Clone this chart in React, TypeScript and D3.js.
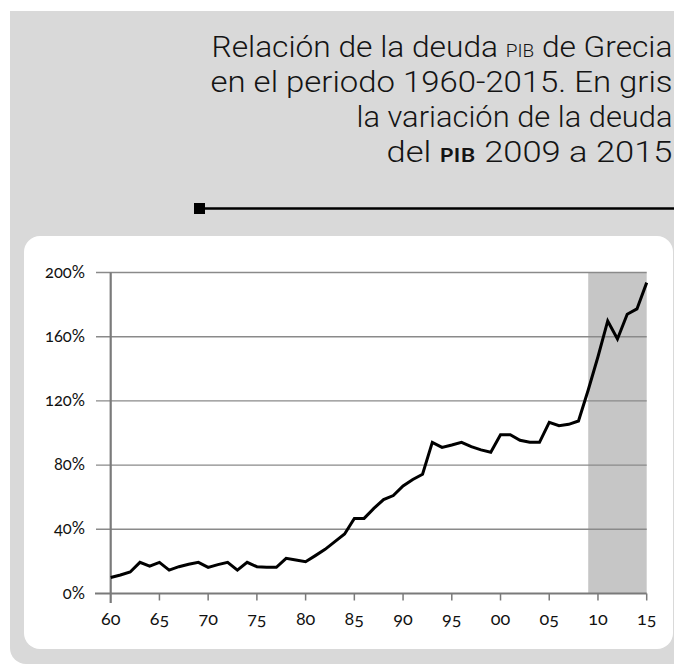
import React from 'react';
import * as d3 from 'd3';

// ---- Data ----
const years = [
  1960, 1961, 1962, 1963, 1964, 1965, 1966, 1967, 1968, 1969,
  1970, 1971, 1972, 1973, 1974, 1975, 1976, 1977, 1978, 1979,
  1980, 1981, 1982, 1983, 1984, 1985, 1986, 1987, 1988, 1989,
  1990, 1991, 1992, 1993, 1994, 1995, 1996, 1997, 1998, 1999,
  2000, 2001, 2002, 2003, 2004, 2005, 2006, 2007, 2008, 2009,
  2010, 2011, 2012, 2013, 2014, 2015,
];
const debtPct = [
  10, 11.5, 13.4, 19.4, 17.1, 19.4, 14.6, 16.7, 18.2, 19.4,
  16.3, 18.0, 19.4, 14.6, 19.4, 16.7, 16.3, 16.3, 21.9, 20.9,
  19.8, 23.6, 27.5, 32.3, 37.1, 46.8, 46.8, 53, 58.5, 61,
  67, 71, 74.3, 94.2, 91, 92.5, 94.2, 91.5, 89.5, 88,
  98.9, 98.9, 95.5, 94.2, 94.2, 106.7, 104.5, 105.4, 107.5, 126.8,
  147.5, 169.8, 158.6, 174, 177.3, 193.7,
];
const yTicks = [0, 40, 80, 120, 160, 200];
const xTickYears = [1960, 1965, 1970, 1975, 1980, 1985, 1990, 1995, 2000, 2005, 2010, 2015];
const xTickLabels = ['60', '65', '70', '75', '80', '85', '90', '95', '00', '05', '10', '15'];
const shadeRange = [2009, 2015];

type Seg = { t: string; kind?: 'sc1' | 'sc2' };
const titleLines: Seg[][] = [
  [{ t: 'Relación de la deuda ' }, { t: 'PIB', kind: 'sc1' }, { t: ' de Grecia' }],
  [{ t: 'en el periodo 1960-2015. En gris' }],
  [{ t: 'la variación de la deuda' }],
  [{ t: 'del ' }, { t: 'PIB', kind: 'sc2' }, { t: ' 2009 a 2015' }],
];
const titleWidths = [461, 462, 316, 286];

export default function App() {
  const W = 674;
  const H = 664;
  const x = d3.scaleLinear().domain([1960, 2015]).range([110.7, 646.7]);
  const y = d3.scaleLinear().domain([0, 200]).range([593.5, 272.5]);
  const line = d3
    .line<number>()
    .x((_, i) => x(years[i]))
    .y((d) => y(d));

  const axisFont = "'Lato', 'Noto Sans', sans-serif";
  const titleFont = "'Roboto', 'DejaVu Sans', sans-serif";
  const gridColor = '#8a8a8a';
  const axisColor = '#7a7a7a';
  const onum: React.CSSProperties = {
    fontVariantNumeric: 'oldstyle-nums',
    fontFeatureSettings: '"onum" 1',
  };

  return (
    <svg
      width={W}
      height={H}
      viewBox={`0 0 ${W} ${H}`}
      style={{ position: 'absolute', left: 0, top: 0, background: '#ffffff' }}
    >
      {/* gray panel */}
      <path d={`M10,11 H${W + 20} V${H} H26 A16,16 0 0 1 10,${H - 16} Z`} fill="#d9d9d9" />

      {/* title */}
      {titleLines.map((segs, li) => (
        <text
          key={li}
          x={672.5}
          y={57 + li * 35}
          textAnchor="end"
          fontFamily={titleFont}
          fontWeight={300}
          fontSize={30}
          fill="#141414"
          textLength={titleWidths[li]}
          lengthAdjust="spacingAndGlyphs"
        >
          {segs.map((s, si) =>
            s.kind === 'sc1' ? (
              <tspan key={si} fontSize={18}>{s.t}</tspan>
            ) : s.kind === 'sc2' ? (
              <tspan key={si} fontSize={19} fontFamily={axisFont} fontWeight={700} letterSpacing={0.5}>
                {s.t}
              </tspan>
            ) : (
              <tspan key={si}>{s.t}</tspan>
            )
          )}
        </text>
      ))}

      {/* rule under title */}
      <rect x={194} y={203} width={11} height={11} fill="#000" />
      <line x1={204} x2={W} y1={208.5} y2={208.5} stroke="#000" strokeWidth={2.3} />

      {/* white card */}
      <rect x={24} y={236} width={649} height={413} rx={16} ry={16} fill="#ffffff" />

      {/* shaded region */}
      <rect
        x={x(shadeRange[0])}
        y={y(200)}
        width={x(shadeRange[1]) - x(shadeRange[0])}
        height={y(0) - y(200)}
        fill="#c6c6c6"
      />

      {/* gridlines */}
      {yTicks.filter((t) => t > 0).map((t) => (
        <line key={t} x1={96} x2={x(2015)} y1={y(t)} y2={y(t)} stroke={gridColor} strokeWidth={1.4} />
      ))}

      {/* y labels */}
      {yTicks.map((t) => (
        <text
          key={t}
          x={85}
          y={y(t) + 5}
          textAnchor="end"
          fontFamily={axisFont}
          fontSize={16.5}
          fill="#111"
          style={onum}
        >
          {`${t}%`}
        </text>
      ))}

      {/* x axis */}
      <line x1={95} x2={x(2015)} y1={y(0)} y2={y(0)} stroke={axisColor} strokeWidth={2} />
      {xTickYears.map((yr, i) => (
        <g key={yr}>
          {i > 0 && (
            <line x1={x(yr)} x2={x(yr)} y1={y(0)} y2={y(0) + 7} stroke={axisColor} strokeWidth={1.5} />
          )}
          <text
            x={x(yr)}
            y={625}
            textAnchor="middle"
            fontFamily={axisFont}
            fontSize={18}
            fill="#111"
            style={onum}
          >
            {xTickLabels[i]}
          </text>
        </g>
      ))}

      {/* y axis */}
      <line x1={x(1960)} x2={x(1960)} y1={y(200)} y2={603} stroke={axisColor} strokeWidth={2.2} />

      {/* data line */}
      <path d={line(debtPct) || ''} fill="none" stroke="#000" strokeWidth={3} strokeLinejoin="miter" />
    </svg>
  );
}
